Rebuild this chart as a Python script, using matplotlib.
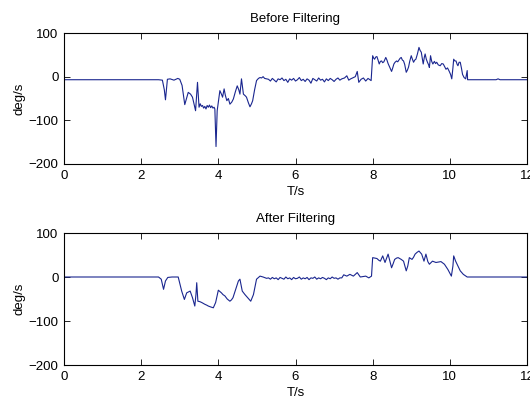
import matplotlib
matplotlib.use("Agg")
import matplotlib.pyplot as plt

# ---------------- data ----------------
t_before = [0.0, 2.45, 2.55, 2.60, 2.63, 2.68, 2.75, 2.85, 2.95, 3.0, 3.06, 3.13, 3.22, 3.28, 3.33, 3.41, 3.46,
            3.50, 3.53, 3.56, 3.59, 3.62, 3.65, 3.68, 3.71, 3.74, 3.77, 3.80, 3.83, 3.86, 3.89,
            3.91, 3.94, 3.97, 4.04, 4.08, 4.11, 4.15, 4.18, 4.22, 4.26,
            4.30, 4.35, 4.39, 4.44, 4.49, 4.53, 4.56, 4.60, 4.65, 4.70, 4.73, 4.78, 4.82, 4.86, 4.89,
            4.94, 4.99, 5.04, 5.08, 5.12, 5.16, 5.20, 5.25,
            5.30, 5.35, 5.40, 5.45, 5.50, 5.55, 5.60, 5.65, 5.70, 5.75, 5.80, 5.85, 5.90, 5.95,
            6.00, 6.05, 6.10, 6.15, 6.20, 6.25, 6.30, 6.35, 6.40, 6.45, 6.50, 6.55, 6.60, 6.65,
            6.70, 6.75, 6.80, 6.85, 6.90, 6.95, 7.00, 7.05, 7.10, 7.15, 7.20,
            7.27, 7.33, 7.38, 7.43, 7.50, 7.55, 7.60, 7.64, 7.70, 7.76, 7.82, 7.88, 7.96,
            8.00, 8.03, 8.05, 8.08, 8.11, 8.14, 8.17, 8.20, 8.23, 8.26, 8.29, 8.32, 8.34, 8.37,
            8.40, 8.44, 8.49, 8.52, 8.55, 8.58, 8.62, 8.65, 8.68, 8.71, 8.74, 8.77, 8.80, 8.83,
            8.87, 8.90, 8.93, 8.96, 9.00, 9.03, 9.06, 9.09, 9.12, 9.16, 9.20, 9.23, 9.26, 9.29,
            9.31, 9.34, 9.36, 9.39, 9.42, 9.45, 9.47, 9.50, 9.53, 9.56, 9.60, 9.63, 9.66, 9.70,
            9.75, 9.79, 9.83, 9.87, 9.90, 9.94, 9.98, 10.02, 10.05, 10.08, 10.10, 10.13, 10.16,
            10.19, 10.21, 10.24, 10.27, 10.30, 10.33, 10.37, 10.41, 10.43, 10.45, 10.46,
            11.2, 11.25, 11.3, 12.0]
v_before = [-7, -7, -8, -30, -53, -6, -5, -8, -4, -6, -20, -64, -36, -40, -47, -78, -13,
            -70, -62, -68, -66, -72, -68, -74, -66, -70, -65, -71, -67, -72, -70,
            -74, -160, -78, -32, -40, -47, -28, -42, -55, -50,
            -63, -58, -51, -35, -21, -30, -40, -5, -40, -44, -47, -60, -69, -62, -55,
            -30, -9, -4, -2, -3, 0, -4, -5,
            -6, -10, -4, -8, -12, -5, -7, -3, -9, -6, -13, -5, -8, -4, -10, -7, -2, -9, -6,
            -11, -5, -8, -15, -4, -7, -10, -3, -8, -6, -12, -5, -9, -4, -7, -11, -6, -3, -8, -5,
            -3, 2, -8, -5, -2, 0, 12, -13, -6, -3, -10, -4, -9,
            48, 42, 40, 45, 46, 38, 29, 35, 36, 32, 34, 40, 44, 38,
            30, 22, 12, 20, 29, 33, 36, 34, 38, 42, 44, 38, 36, 28,
            10, 15, 22, 35, 48, 40, 33, 38, 40, 52, 67, 60, 56, 40,
            29, 45, 52, 40, 33, 27, 21, 48, 35, 29, 35, 30, 33, 27,
            25, 30, 29, 22, 17, 20, 13, 5, -5, 20, 40, 36, 36,
            28, 25, 33, 33, 20, 5, -2, -5, 5, 14, -7,
            -7, -5, -7, -7]

t_after = [0.0, 2.45, 2.52, 2.58, 2.63, 2.69, 2.80, 2.96, 3.05, 3.12, 3.18, 3.27, 3.33, 3.39, 3.42,
           3.44, 3.47, 3.52, 3.57, 3.61, 3.65, 3.70, 3.74, 3.80, 3.87, 3.93, 4.00, 4.04, 4.08, 4.12,
           4.17, 4.23, 4.30, 4.34, 4.38, 4.45,
           4.52, 4.56, 4.62, 4.69, 4.76, 4.84, 4.91, 4.99, 5.08, 5.16, 5.25,
           5.30, 5.35, 5.40, 5.45, 5.50, 5.55, 5.60, 5.65, 5.70, 5.75, 5.80, 5.85, 5.90, 5.95,
           6.00, 6.05, 6.10, 6.15, 6.20, 6.25, 6.30, 6.35, 6.40, 6.45, 6.50, 6.55, 6.60, 6.65,
           6.70, 6.75, 6.80, 6.85, 6.90, 6.95, 7.00, 7.05, 7.10, 7.15,
           7.20, 7.25, 7.33, 7.41, 7.50, 7.60, 7.68, 7.82, 7.90, 7.97,
           8.00, 8.05, 8.11, 8.16, 8.20, 8.26, 8.32, 8.40, 8.45, 8.49, 8.53, 8.57, 8.62, 8.66,
           8.70, 8.74, 8.80, 8.87, 8.91,
           8.95, 9.02, 9.06, 9.10, 9.15, 9.20, 9.27, 9.33, 9.38, 9.43, 9.47, 9.55, 9.64, 9.77,
           9.86, 9.95, 10.04, 10.08, 10.10, 10.15, 10.21, 10.27, 10.35, 10.45, 12.0]
v_after = [0, 0, -5, -28, -9, -1, 0, 0, -32, -51, -36, -32, -47, -66, -40,
           -13, -55, -56, -58, -60, -62, -64, -66, -68, -70, -58, -30, -33, -36, -40,
           -43, -50, -55, -52, -47, -28,
           -9, -5, -32, -40, -47, -55, -40, -5, 2, 0, -3,
           -2, -5, -1, -4, -2, -6, -1, -3, -5, 0, -4, -2, -6, -1, -4, -3, 0, -5, -2, -4,
           -1, -6, -2, -3, 0, -5, -2, -4, -1, -3, -6, -2, -4, 0, -3, -2, -5, -2,
           -2, 5, 2, 6, 2, 10, 0, 2, -2, 2,
           44, 43, 42, 38, 36, 48, 33, 52, 35, 21, 30, 40, 43, 44,
           42, 40, 36, 14, 25,
           44, 40, 45, 52, 56, 59, 52, 36, 52, 35, 29, 36, 33, 35,
           29, 17, 2, 25, 48, 36, 25, 14, 6, 0, 0]

x_ticks = [0, 2, 4, 6, 8, 10, 12]
y_ticks = [-200, -100, 0, 100]
titles = ["Before Filtering", "After Filtering"]

# ---------------- figure ----------------
plt.rcParams['font.family'] = ['Liberation Sans', 'DejaVu Sans']
fig = plt.figure(figsize=(5.30, 3.98), dpi=100)
line_color = '#1a268f'

positions = [[64/530, 1-164/398, 463/530, 131/398],
             [64/530, 1-365/398, 463/530, 132/398]]
series = [(t_before, v_before), (t_after, v_after)]

for pos, (tt, vv), ttl in zip(positions, series, titles):
    ax = fig.add_axes(pos)
    ax.plot(tt, vv, color=line_color, linewidth=0.8)
    ax.set_xlim(0, 12)
    ax.set_ylim(-200, 100)
    ax.set_xticks(x_ticks)
    ax.set_yticks(y_ticks)
    ax.tick_params(direction='in', top=True, right=True, length=4, width=0.6,
                   labelsize=9.5, pad=4)
    for s in ax.spines.values():
        s.set_linewidth(0.8)
    ax.set_title(ttl, fontsize=9.5, pad=8)
    ax.set_xlabel('T/s', fontsize=9.5, labelpad=3)
    ax.set_ylabel('deg/s', fontsize=9.5, labelpad=2)

fig.savefig('out.png', dpi=100)
